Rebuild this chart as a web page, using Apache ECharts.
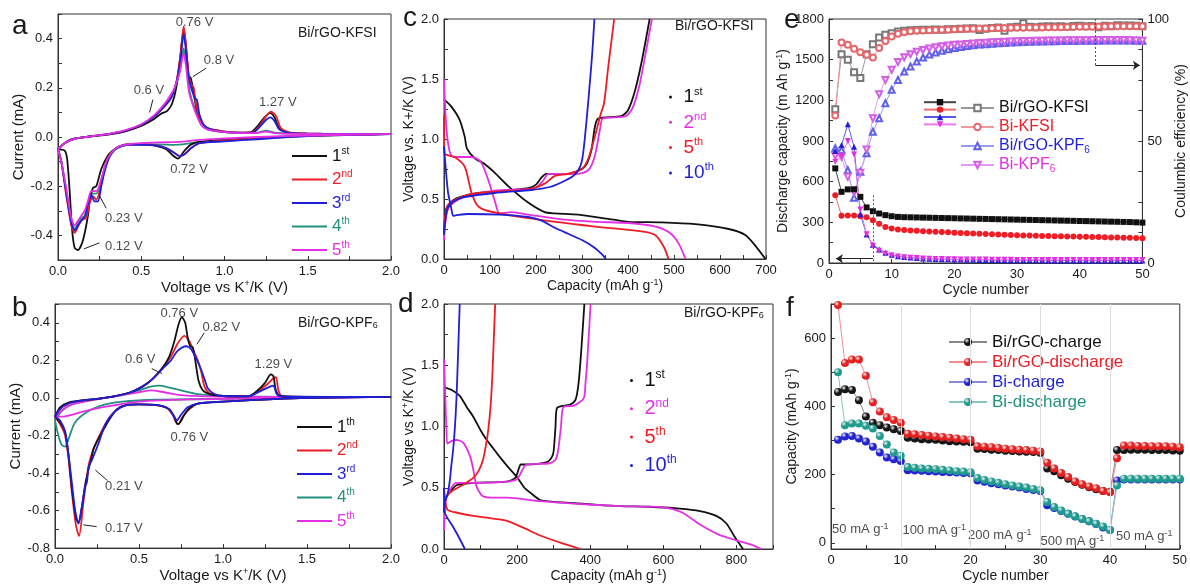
<!DOCTYPE html>
<html>
<head>
<meta charset="utf-8">
<script src="https://cdn.jsdelivr.net/npm/echarts@6/dist/echarts.min.js"></script>
<style>
  html, body { margin: 0; padding: 0; background: #fff; }
  #chart { width: 1190px; height: 585px; }
</style>
</head>
<body>
<div id="chart"></div>
<script>
// ---------- panel a : CV, Bi/rGO in KFSI  [V, mA] ----------
var aCycle1 = [[0,-0.05],[0.03,-0.03],[0.06,-0.015],[0.1,-0.006],[0.2,0.003],[0.3,0.01],[0.4,0.022],[0.5,0.045],[0.57,0.07],[0.62,0.095],[0.655,0.105],[0.685,0.135],[0.71,0.2],[0.735,0.33],[0.755,0.44],[0.77,0.36],[0.785,0.25],[0.797,0.24],[0.81,0.2],[0.83,0.12],[0.86,0.06],[0.9,0.035],[1.0,0.022],[1.1,0.018],[1.16,0.02],[1.2,0.045],[1.24,0.08],[1.275,0.098],[1.3,0.08],[1.33,0.035],[1.38,0.018],[1.5,0.014],[1.75,0.012],[2.0,0.012],
  [1.6,0.008],[1.3,0.0],[1.0,-0.012],[0.85,-0.02],[0.8,-0.03],[0.76,-0.055],[0.72,-0.088],[0.69,-0.075],[0.65,-0.05],[0.6,-0.038],[0.5,-0.03],[0.42,-0.03],[0.38,-0.035],[0.34,-0.05],[0.3,-0.075],[0.26,-0.13],[0.23,-0.2],[0.21,-0.207],[0.19,-0.26],[0.18,-0.32],[0.15,-0.42],[0.12,-0.46],[0.1,-0.45],[0.085,-0.38],[0.07,-0.22],[0.055,-0.09],[0.04,-0.055],[0,-0.05]];
var aCycle2 = [[0,-0.05],[0.04,-0.025],[0.1,-0.008],[0.2,0.003],[0.3,0.012],[0.4,0.025],[0.5,0.05],[0.58,0.085],[0.64,0.125],[0.68,0.16],[0.71,0.22],[0.735,0.33],[0.755,0.45],[0.77,0.36],[0.785,0.25],[0.8,0.215],[0.815,0.2],[0.83,0.13],[0.86,0.06],[0.9,0.035],[1.0,0.022],[1.1,0.018],[1.17,0.02],[1.21,0.045],[1.25,0.085],[1.28,0.103],[1.31,0.085],[1.34,0.035],[1.4,0.017],[1.6,0.013],[2.0,0.012],
  [1.5,0.005],[1.0,-0.015],[0.85,-0.025],[0.8,-0.045],[0.76,-0.07],[0.73,-0.077],[0.7,-0.065],[0.65,-0.045],[0.55,-0.03],[0.42,-0.03],[0.35,-0.045],[0.3,-0.085],[0.27,-0.15],[0.25,-0.22],[0.23,-0.255],[0.21,-0.24],[0.19,-0.27],[0.17,-0.33],[0.15,-0.335],[0.13,-0.35],[0.1,-0.39],[0.08,-0.36],[0.05,-0.24],[0.02,-0.1],[0,-0.05]];
var aCycle3 = [[0,-0.05],[0.04,-0.025],[0.1,-0.008],[0.2,0.003],[0.3,0.012],[0.4,0.025],[0.5,0.05],[0.58,0.085],[0.64,0.125],[0.68,0.16],[0.71,0.22],[0.735,0.31],[0.755,0.42],[0.77,0.34],[0.785,0.24],[0.8,0.2],[0.82,0.16],[0.835,0.15],[0.85,0.09],[0.88,0.045],[0.92,0.03],[1.0,0.02],[1.1,0.017],[1.17,0.018],[1.21,0.04],[1.25,0.07],[1.275,0.08],[1.3,0.065],[1.33,0.03],[1.4,0.016],[1.6,0.013],[2.0,0.012],
  [1.5,0.004],[1.0,-0.018],[0.85,-0.025],[0.8,-0.045],[0.76,-0.07],[0.73,-0.078],[0.7,-0.065],[0.65,-0.045],[0.55,-0.032],[0.42,-0.032],[0.35,-0.045],[0.31,-0.08],[0.28,-0.14],[0.26,-0.2],[0.24,-0.262],[0.22,-0.262],[0.2,-0.235],[0.18,-0.27],[0.165,-0.32],[0.14,-0.34],[0.12,-0.36],[0.1,-0.38],[0.08,-0.35],[0.05,-0.23],[0.02,-0.1],[0,-0.05]];
var aCycle4 = [[0,-0.05],[0.04,-0.025],[0.1,-0.008],[0.2,0.003],[0.3,0.012],[0.4,0.025],[0.5,0.05],[0.58,0.085],[0.64,0.13],[0.68,0.16],[0.71,0.21],[0.735,0.28],[0.755,0.36],[0.77,0.3],[0.785,0.21],[0.8,0.16],[0.83,0.1],[0.86,0.05],[0.9,0.03],[1.0,0.02],[1.1,0.016],[1.2,0.018],[1.25,0.026],[1.3,0.018],[1.4,0.014],[1.6,0.012],[2.0,0.012],
  [1.5,0.004],[1.2,-0.004],[1.0,-0.012],[0.85,-0.02],[0.75,-0.03],[0.7,-0.032],[0.6,-0.03],[0.5,-0.03],[0.42,-0.032],[0.36,-0.045],[0.32,-0.07],[0.29,-0.11],[0.26,-0.18],[0.23,-0.23],[0.2,-0.23],[0.18,-0.27],[0.16,-0.32],[0.14,-0.33],[0.12,-0.35],[0.1,-0.375],[0.08,-0.34],[0.05,-0.22],[0.02,-0.1],[0,-0.05]];
var aCycle5 = [[0,-0.05],[0.04,-0.025],[0.1,-0.008],[0.2,0.003],[0.3,0.012],[0.4,0.027],[0.5,0.052],[0.58,0.09],[0.64,0.135],[0.68,0.175],[0.7,0.2],[0.73,0.26],[0.755,0.34],[0.77,0.28],[0.785,0.19],[0.8,0.15],[0.82,0.11],[0.86,0.05],[0.9,0.03],[1.0,0.02],[1.1,0.016],[1.2,0.017],[1.25,0.022],[1.3,0.016],[1.4,0.013],[1.6,0.012],[2.0,0.012],
  [1.5,0.006],[1.2,0.0],[1.0,-0.006],[0.85,-0.012],[0.72,-0.02],[0.6,-0.022],[0.5,-0.025],[0.42,-0.03],[0.36,-0.04],[0.32,-0.065],[0.29,-0.1],[0.26,-0.17],[0.23,-0.22],[0.2,-0.22],[0.18,-0.26],[0.16,-0.3],[0.14,-0.32],[0.12,-0.34],[0.1,-0.36],[0.08,-0.33],[0.05,-0.21],[0.02,-0.1],[0,-0.05]];
var aNotes = [[0.82,0.465,'0.76 V'],[0.967,0.31,'0.8 V'],[0.546,0.19,'0.6 V'],[1.32,0.139,'1.27 V'],[0.787,-0.133,'0.72 V'],[0.395,-0.333,'0.23 V'],[0.395,-0.446,'0.12 V']];
var aArrows = [[0.89,0.28,0.81,0.245],[0.57,0.152,0.55,0.1],[0.29,-0.29,0.25,-0.24],[0.25,-0.43,0.155,-0.455]];

// ---------- panel b : CV, Bi/rGO in KPF6 ----------
var bCycle1 = [[0,-0.1],[0.03,-0.05],[0.08,-0.025],[0.15,-0.015],[0.25,-0.005],[0.35,0.008],[0.45,0.03],[0.52,0.06],[0.58,0.1],[0.64,0.16],[0.68,0.22],[0.71,0.3],[0.735,0.39],[0.755,0.43],[0.775,0.4],[0.79,0.32],[0.805,0.275],[0.82,0.27],[0.835,0.2],[0.855,0.09],[0.88,0.04],[0.92,0.02],[1.0,0.01],[1.15,0.008],[1.2,0.035],[1.25,0.08],[1.285,0.125],[1.3,0.115],[1.315,0.04],[1.34,0.01],[1.5,0.005],[2,0.005],
  [1.5,0.0],[1.0,-0.02],[0.85,-0.03],[0.8,-0.055],[0.77,-0.09],[0.745,-0.13],[0.73,-0.14],[0.71,-0.1],[0.68,-0.06],[0.62,-0.04],[0.5,-0.035],[0.42,-0.04],[0.37,-0.06],[0.32,-0.12],[0.27,-0.2],[0.23,-0.27],[0.215,-0.33],[0.205,-0.36],[0.195,-0.4],[0.18,-0.46],[0.16,-0.58],[0.14,-0.665],[0.125,-0.64],[0.1,-0.48],[0.08,-0.3],[0.06,-0.18],[0.03,-0.13],[0,-0.1]];
var bCycle2 = [[0,-0.1],[0.03,-0.06],[0.08,-0.03],[0.15,-0.015],[0.25,-0.005],[0.35,0.008],[0.45,0.03],[0.52,0.06],[0.58,0.1],[0.64,0.16],[0.69,0.22],[0.73,0.29],[0.77,0.33],[0.8,0.3],[0.83,0.24],[0.85,0.2],[0.87,0.14],[0.89,0.06],[0.92,0.025],[1.0,0.01],[1.15,0.008],[1.2,0.03],[1.26,0.07],[1.3,0.105],[1.315,0.11],[1.33,0.04],[1.35,0.01],[1.5,0.005],[2,0.005],
  [1.5,0.0],[1.0,-0.02],[0.85,-0.03],[0.8,-0.06],[0.76,-0.1],[0.735,-0.14],[0.72,-0.13],[0.7,-0.09],[0.66,-0.05],[0.5,-0.035],[0.42,-0.04],[0.37,-0.06],[0.32,-0.11],[0.27,-0.19],[0.23,-0.27],[0.2,-0.36],[0.17,-0.55],[0.143,-0.736],[0.125,-0.68],[0.1,-0.5],[0.08,-0.32],[0.06,-0.2],[0.03,-0.14],[0,-0.1]];
var bCycle3 = [[0,-0.1],[0.03,-0.06],[0.08,-0.03],[0.15,-0.015],[0.25,-0.005],[0.35,0.008],[0.45,0.03],[0.52,0.06],[0.58,0.1],[0.64,0.155],[0.69,0.2],[0.73,0.25],[0.78,0.275],[0.81,0.26],[0.84,0.21],[0.87,0.15],[0.89,0.1],[0.91,0.05],[0.95,0.02],[1.0,0.01],[1.15,0.008],[1.22,0.035],[1.28,0.06],[1.3,0.065],[1.32,0.02],[1.35,0.008],[2,0.005],
  [1.5,0.0],[1.0,-0.02],[0.85,-0.03],[0.79,-0.05],[0.75,-0.09],[0.725,-0.12],[0.71,-0.1],[0.68,-0.06],[0.62,-0.04],[0.5,-0.035],[0.42,-0.04],[0.36,-0.07],[0.3,-0.14],[0.26,-0.24],[0.22,-0.33],[0.2,-0.37],[0.19,-0.45],[0.18,-0.47],[0.16,-0.58],[0.14,-0.67],[0.12,-0.6],[0.1,-0.45],[0.08,-0.3],[0.06,-0.18],[0.03,-0.12],[0,-0.1]];
var bCycle4 = [[0,-0.12],[0.04,-0.07],[0.1,-0.035],[0.2,-0.015],[0.3,0.0],[0.4,0.015],[0.5,0.04],[0.57,0.06],[0.62,0.065],[0.68,0.055],[0.75,0.04],[0.85,0.02],[1.0,0.01],[1.5,0.005],[2,0.005],
  [1.5,0.0],[1.0,-0.005],[0.6,-0.01],[0.4,-0.02],[0.3,-0.035],[0.2,-0.07],[0.12,-0.13],[0.08,-0.22],[0.06,-0.26],[0.04,-0.25],[0.02,-0.2],[0,-0.12]];
var bCycle5 = [[0,-0.1],[0.05,-0.06],[0.1,-0.035],[0.2,-0.015],[0.3,0.0],[0.4,0.015],[0.5,0.03],[0.57,0.04],[0.65,0.03],[0.75,0.015],[0.9,0.008],[1.2,0.005],[2,0.005],
  [1.2,-0.003],[0.8,-0.008],[0.5,-0.02],[0.35,-0.04],[0.2,-0.065],[0.1,-0.09],[0.05,-0.1],[0,-0.1]];
var bNotes = [[0.74,0.45,'0.76 V'],[0.99,0.373,'0.82 V'],[0.507,0.206,'0.6 V'],[1.3,0.18,'1.29 V'],[0.8,-0.208,'0.76 V'],[0.41,-0.472,'0.21 V'],[0.41,-0.697,'0.17 V']];
var bArrows = [[0.888,0.346,0.845,0.285],[0.576,0.156,0.636,0.13],[0.312,-0.44,0.24,-0.384],[0.248,-0.686,0.169,-0.676]];

// ---------- panel c : charge/discharge, KFSI  [mAh/g, V] ----------
var c1Dis = [[0,1.33],[16,1.27],[34,1.16],[45,1.02],[50,0.92],[67,0.84],[89,0.79],[110,0.72],[139,0.61],[183,0.47],[219,0.39],[241,0.38],[292,0.37],[365,0.33],[401,0.31],[473,0.305],[546,0.29],[619,0.25],[655,0.2],[677,0.11],[699,0]];
var c1Chg = [[0,0.2],[5,0.42],[20,0.49],[38,0.52],[74,0.55],[110,0.56],[183,0.59],[200,0.62],[212,0.68],[222,0.71],[270,0.71],[306,0.77],[320,0.9],[328,1.1],[335,1.17],[385,1.19],[400,1.24],[415,1.4],[430,1.65],[447,2.0]];
var c2Dis = [[0,1.5],[5,1.1],[12,0.9],[20,0.85],[40,0.85],[60,0.85],[80,0.81],[96,0.66],[110,0.49],[121,0.38],[147,0.39],[183,0.37],[256,0.33],[330,0.31],[401,0.3],[460,0.27],[490,0.22],[510,0.13],[525,0]];
var c2Chg = [[0,0.16],[9,0.42],[38,0.51],[110,0.57],[197,0.59],[215,0.65],[227,0.71],[292,0.71],[314,0.74],[328,0.86],[340,1.1],[345,1.17],[395,1.19],[410,1.26],[425,1.45],[440,1.75],[452,2.0]];
var c5Dis = [[0,1.2],[1,0.88],[23,0.85],[45,0.77],[60,0.55],[74,0.44],[96,0.4],[183,0.34],[328,0.27],[430,0.23],[459,0.2],[478,0.1],[488,0]];
var c5Chg = [[0,0.27],[9,0.45],[40,0.52],[74,0.55],[183,0.58],[220,0.63],[240,0.69],[270,0.71],[300,0.75],[315,0.85],[330,1.05],[340,1.2],[348,1.3],[357,1.6],[370,2.0]];
var c10Dis = [[0,0.94],[5,0.7],[9,0.55],[16,0.42],[20,0.36],[27,0.365],[52,0.375],[120,0.37],[183,0.35],[212,0.32],[241,0.26],[270,0.21],[299,0.16],[325,0.1],[343,0.04],[352,0]];
var c10Chg = [[0,0.2],[5,0.38],[12,0.45],[38,0.51],[110,0.55],[190,0.575],[230,0.6],[256,0.64],[280,0.69],[292,0.74],[300,0.82],[306,1.0],[314,1.33],[322,1.7],[327,2.0]];

// ---------- panel d : charge/discharge, KPF6 ----------
var d1Dis = [[0,1.32],[20,1.3],[43,1.25],[62,1.16],[80,1.08],[100,0.97],[117,0.89],[135,0.82],[153,0.75],[175,0.67],[199,0.59],[220,0.5],[236,0.46],[263,0.4],[300,0.385],[355,0.375],[420,0.36],[483,0.35],[560,0.345],[644,0.33],[700,0.31],[745,0.27],[772,0.21],[795,0.1],[818,0]];
var d1Chg = [[0,0.3],[3,0.4],[7,0.43],[34,0.52],[80,0.54],[172,0.55],[195,0.58],[205,0.66],[210,0.69],[226,0.69],[282,0.71],[295,0.75],[300,0.8],[305,1.0],[309,1.15],[345,1.18],[360,1.22],[368,1.35],[375,1.6],[384,2.0]];
var d2Dis = [[0,1.55],[4,1.2],[7,0.95],[9,0.86],[20,0.88],[34,0.89],[52,0.87],[71,0.76],[80,0.65],[89,0.51],[100,0.45],[107,0.43],[125,0.42],[172,0.42],[263,0.39],[355,0.37],[483,0.35],[600,0.34],[650,0.3],[700,0.2],[750,0.12],[800,0.07],[840,0.035],[868,0]];
var d2Chg = [[0,0.15],[5,0.4],[20,0.5],[34,0.54],[80,0.54],[172,0.55],[200,0.57],[217,0.66],[226,0.69],[290,0.7],[305,0.73],[312,0.8],[320,1.0],[327,1.16],[355,1.17],[382,1.23],[387,1.35],[392,1.54],[401,2.0]];
var d5Dis = [[0,0.5],[4,0.38],[10,0.32],[30,0.3],[80,0.27],[130,0.25],[172,0.23],[220,0.17],[263,0.11],[320,0.05],[373,0]];
var d5Chg = [[0,0.3],[2,0.38],[10,0.44],[25,0.48],[50,0.52],[80,0.58],[95,0.64],[107,0.73],[116,0.87],[121,0.97],[127,1.15],[132,1.4],[136,1.7],[140,2.0]];
var d10Dis = [[0,0.5],[2,0.3],[10,0.25],[25,0.18],[40,0.1],[57,0]];
var d10Chg = [[0,0.3],[2,0.38],[10,0.45],[16,0.56],[20,0.68],[25,0.81],[30,1.0],[34,1.22],[38,1.55],[43,2.0]];

// ---------- panel e : cycling at 50 cycles ----------
var cycles = [];
for (var i = 1; i <= 50; i++) cycles.push(i);
var eCapRGOKFSI = [698,525,543,544,488,410,382,365,353,345,340,338,337,336,335,334,333,332,331,330,329,328,327,326,325,324,323,322,321,320,319,318,317,316,315,314,313,312,311,310,309,308,307,306,305,304,303,302,300,298];
var eCapBiKFSI = [500,348,350,350,345,338,316,289,266,254,247,243,240,237,235,232,230,228,226,224,222,220,218,216,214,212,210,208,206,204,203,202,201,200,199,198,197,196,195,194,193,192,191,190,189,188,187,186,185,183];
var eCapRGOKPF6 = [826,870,1023,858,360,210,135,100,75,60,50,44,40,37,34,32,30,28,27,26,25,24,24,23,23,22,22,21,21,21,20,20,20,20,19,19,19,19,19,18,18,18,18,18,18,18,18,18,18,18];
var eCapBiKPF6 = [747,790,900,801,395,212,128,90,68,56,48,43,39,36,33,31,30,29,28,27,26,26,25,25,25,24,24,24,24,23,23,23,23,23,23,22,22,22,22,22,22,22,22,22,22,22,22,22,22,22];
var eCeRGOKFSI = [63,85.6,83.3,78.2,75.8,85.6,89.7,92.4,93.5,94.2,94.9,95.2,95.4,95.5,95.6,95.6,95.7,95.6,95.8,95.9,96,96.1,96.2,95.5,96,96.3,96.5,95.2,96.6,96.8,98.3,96.8,96.6,96.9,97,96.9,97,96.8,97.1,97.2,97,97.1,96.6,97.2,97,97.4,97.3,97.3,97.2,97];
var eCeBiKFSI = [60.4,90.4,89.4,87.8,86.4,85.3,84.2,88.1,91,92.8,94,94.6,95,95.2,95.3,95.4,95.5,95.6,95.6,95.8,95.9,96,96,96.1,96.1,96.2,96.3,96.3,96.4,96.4,96.4,96.5,96.5,96.5,96.6,96.6,96.6,96.7,96.7,96.8,96.8,96.8,96.9,96.9,97,97,97,97,97,97];
var eCeRGOKPF6 = [47,46.3,38,26.7,37.4,45,53.8,59.3,65.5,71,75,78.5,80.5,82.6,84.2,85.4,86.3,87,87.6,88.1,88.5,88.9,89.2,89.5,89.7,89.9,90.1,90.2,90.4,90.5,90.6,90.7,90.8,90.8,90.9,90.9,91,91,91,91.1,91.1,91.1,91.1,91.2,91.2,91.2,91.2,91.2,91.1,91.1];
var eCeBiKPF6 = [44,43.5,35.3,29,37,46.5,59.3,69.2,75,79.2,82.4,84.3,85.6,86.6,87.3,87.9,88.4,88.8,89.1,89.4,89.6,89.8,90,90.2,90.3,90.5,90.6,90.7,90.8,90.9,91,91,91.1,91.1,91.2,91.2,91.2,91.3,91.3,91.3,91.3,91.4,91.4,91.4,91.4,91.4,91.4,91.3,91.2,91.1];

// ---------- panel f : rate capability ----------
var fRGOcharge = [442,450,448,418,370,352,345,338,333,328,308,306,304,303,302,300,298,297,296,295,276,275,273,272,270,269,268,267,266,264,218,210,198,188,178,170,163,157,152,150,272,272,273,273,273,272,272,272,271,270];
var fRGOdischarge = [697,527,537,537,490,412,385,368,360,352,320,318,316,314,312,310,308,306,304,302,283,282,280,278,276,274,273,272,270,268,235,218,205,193,180,172,165,160,152,148,248,285,285,284,284,283,283,283,282,280];
var fBicharge = [302,312,313,306,297,282,265,250,245,240,213,212,211,210,209,208,207,206,205,204,183,179,175,172,168,165,162,158,155,152,110,102,93,85,77,70,63,55,45,38,183,186,186,186,186,186,186,186,186,186];
var fBidischarge = [500,345,350,350,343,335,313,288,265,255,222,220,218,217,216,214,212,210,209,207,190,184,180,176,172,168,165,162,158,154,120,105,95,85,78,70,63,56,48,38,168,188,188,188,188,188,188,188,188,188];
var fRates = [[4.2,39,'50 mA g{sup|-1}'],[14.8,36,'100 mA g{sup|-1}'],[24.2,21,'200 mA g{sup|-1}'],[34.6,5,'500 mA g{sup|-1}'],[44.9,19,'50 mA g{sup|-1}']];
var fSteps = [10, 20, 30, 40];

// ---------- tick positions ----------
var cvXLabels = [0, 0.5, 1, 1.5, 2];
var cvXTicks = [0, 0.25, 0.5, 0.75, 1, 1.25, 1.5, 1.75, 2];
var aYLabels = [-0.4, -0.2, 0, 0.2, 0.4];
var aYTicks = [-0.5, -0.4, -0.3, -0.2, -0.1, 0, 0.1, 0.2, 0.3, 0.4, 0.5];
var bYLabels = [-0.8, -0.6, -0.4, -0.2, 0, 0.2, 0.4];
var bYTicks = [-0.8, -0.7, -0.6, -0.5, -0.4, -0.3, -0.2, -0.1, 0, 0.1, 0.2, 0.3, 0.4, 0.5];
var vLabels = [0, 0.5, 1, 1.5, 2];
var vTicks = [0, 0.25, 0.5, 0.75, 1, 1.25, 1.5, 1.75, 2];
var cXLabels = [0, 100, 200, 300, 400, 500, 600, 700];
var cXTicks = [0, 50, 100, 150, 200, 250, 300, 350, 400, 450, 500, 550, 600, 650, 700];
var dXLabels = [0, 200, 400, 600, 800];
var dXTicks = [0, 100, 200, 300, 400, 500, 600, 700, 800, 900];
var cycLabels = [0, 10, 20, 30, 40, 50];
var cycTicks = [0, 5, 10, 15, 20, 25, 30, 35, 40, 45, 50];
var eYLabels = [0, 300, 600, 900, 1200, 1500, 1800];
var eYTicks = [0, 150, 300, 450, 600, 750, 900, 1050, 1200, 1350, 1500, 1650, 1800];
var eCeLabels = [0, 50, 100];
var eCeTicks = [0, 12.5, 25, 37.5, 50, 62.5, 75, 87.5, 100];
var fYLabels = [0, 200, 400, 600];
var fYTicks = [0, 100, 200, 300, 400, 500, 600, 700];

// ---------- styling ----------
var FONT = '"Liberation Sans", Arial, Helvetica, sans-serif';
var INK = '#1a1a1a';
var K = '#111111', R = '#ee1c24', B = '#1f1fd8', T = '#23917f', M = '#e42fe4';
var RICH = {
  sup: {fontSize: 9, lineHeight: 9, verticalAlign: 'top', fontFamily: FONT},
  sub: {fontSize: 9, lineHeight: 9, verticalAlign: 'bottom', fontFamily: FONT}
};

function fmt1(v) { return v.toFixed(1); }
function fmt0(v) { return String(Math.round(v)); }

function axisCfg(g, min, max, labels, ticks, formatter, name, gap, extra) {
  var a = {
    type: 'value', gridIndex: g, min: min, max: max,
    axisLine: {show: true, onZero: false, lineStyle: {color: '#333', width: 1}},
    axisTick: {show: true, inside: true, length: 4, customValues: ticks, lineStyle: {color: '#333'}},
    axisLabel: {customValues: labels, formatter: formatter, fontSize: 13, color: INK, fontFamily: FONT, margin: 5},
    splitLine: {show: false},
    name: name, nameLocation: 'middle', nameGap: gap,
    nameTextStyle: {fontSize: 14, color: INK, fontFamily: FONT, lineHeight: 16, rich: RICH}
  };
  if (extra) Object.keys(extra).forEach(function (k) { a[k] = extra[k]; });
  return a;
}

function curve(name, data, color, xi, yi) {
  return {
    name: name, type: 'line', xAxisIndex: xi, yAxisIndex: yi, data: data,
    showSymbol: false, symbol: 'none', smooth: 0.25,
    lineStyle: {color: color, width: 1.8}, itemStyle: {color: color}, z: 3
  };
}

function notes(xi, yi, items, arrows, fontSize) {
  return {
    type: 'scatter', xAxisIndex: xi, yAxisIndex: yi, silent: true, z: 6,
    symbolSize: 1, itemStyle: {color: 'rgba(0,0,0,0)'},
    data: items.map(function (t) { return {value: [t[0], t[1]], name: t[2]}; }),
    label: {show: true, position: 'inside', formatter: '{b}', fontSize: fontSize || 13,
            lineHeight: 15, color: INK, fontFamily: FONT, rich: RICH},
    markLine: {
      silent: true, symbol: ['none', 'arrow'], symbolSize: [0, 6], animation: false,
      lineStyle: {color: '#222', width: 1, type: 'solid'}, label: {show: false},
      data: (arrows || []).map(function (a) { return [{coord: [a[0], a[1]]}, {coord: [a[2], a[3]]}]; })
    }
  };
}

function pairs(xs, ys) { return xs.map(function (x, k) { return [x, ys[k]]; }); }

function supName(n) {
  var t = n.split(':')[1];
  var m = t.match(/^(\d+)(\D+)$/);
  return m ? m[1] + '{s|' + m[2] + '}' : t;
}

function ordLegend(left, top, names, colors, icon, w, h, size, gap) {
  return {
    orient: 'vertical', left: left, top: top, icon: icon, itemWidth: w, itemHeight: h,
    itemGap: gap, selectedMode: false, padding: 0,
    formatter: supName,
    textStyle: {fontSize: size, lineHeight: size + 3, fontFamily: FONT,
                rich: {s: {fontSize: Math.round(size * 0.6), lineHeight: 10, verticalAlign: 'top', fontFamily: FONT}}},
    data: names.map(function (n, k) {
      return {name: n, textStyle: {color: colors[k], rich: {s: {color: colors[k]}}}};
    })
  };
}

function ball(c) {
  return {type: 'radial', x: 0.35, y: 0.32, r: 0.75,
          colorStops: [{offset: 0, color: '#f2f2f2'}, {offset: 0.45, color: c}, {offset: 1, color: c}]};
}

function label(text, left, top, size) {
  return {text: text, left: left, top: top, padding: 0,
          textStyle: {fontSize: size, fontWeight: 'normal', color: INK, fontFamily: FONT, rich: RICH}};
}

var chart = echarts.init(document.getElementById('chart'), null, {renderer: 'canvas'});

var kpfName = function (n) {
  var t = n.split(':')[1];
  return t.replace('KPF6', 'KPF{sub|6}');
};

var option = {
  animation: false,
  backgroundColor: '#ffffff',
  textStyle: {fontFamily: FONT},
  title: [
    label('a', 12, 12, 28), label('b', 12, 294, 28), label('c', 403, 4, 28),
    label('d', 398, 290, 28), label('e', 784, 6, 28), label('f', 786, 294, 28),
    label('Bi/rGO-KFSI', 298, 26, 14), label('Bi/rGO-KPF{sub|6}', 298, 316, 14),
    label('Bi/rGO-KFSI', 675, 19, 14), label('Bi/rGO-KPF{sub|6}', 684, 306, 14)
  ],
  grid: [
    {left: 58, top: 14, width: 333, height: 246},
    {left: 55, top: 304, width: 336, height: 245},
    {left: 444, top: 19, width: 322, height: 240},
    {left: 444, top: 304, width: 329, height: 245},
    {left: 829, top: 19, width: 329, height: 244},
    {left: 831, top: 304, width: 360, height: 245}
  ].map(function (g) {
    g.show = true; g.borderColor = '#333'; g.borderWidth = 1; g.backgroundColor = 'transparent';
    return g;
  }),
  xAxis: [
    axisCfg(0, 0, 2, cvXLabels, cvXTicks, fmt1, 'Voltage vs K{sup|+}/K (V)', 15, {nameTextStyle: {fontSize: 15, color: INK, fontFamily: FONT, lineHeight: 17, rich: RICH}}),
    axisCfg(1, 0, 2, cvXLabels, cvXTicks, fmt1, 'Voltage vs K{sup|+}/K (V)', 18, {nameTextStyle: {fontSize: 15, color: INK, fontFamily: FONT, lineHeight: 17, rich: RICH}}),
    axisCfg(2, 0, 700, cXLabels, cXTicks, fmt0, 'Capacity (mAh g{sup|-1})', 18),
    axisCfg(3, 0, 900, dXLabels, dXTicks, fmt0, 'Capacity (mAh g{sup|-1})', 16),
    axisCfg(4, 0, 50, cycLabels, cycTicks, fmt0, 'Cycle number', 18),
    axisCfg(5, 0, 50, cycLabels, cycTicks, fmt0, 'Cycle number', 19)
  ],
  yAxis: [
    axisCfg(0, -0.5, 0.5, aYLabels, aYTicks, fmt1, 'Current (mA)', 31, {nameTextStyle: {fontSize: 15, color: INK, fontFamily: FONT}}),
    axisCfg(1, -0.8, 0.5, bYLabels, bYTicks, fmt1, 'Current (mA)', 30, {nameTextStyle: {fontSize: 15, color: INK, fontFamily: FONT}}),
    axisCfg(2, 0, 2, vLabels, vTicks, fmt1, 'Voltage vs. K+/K (V)', 27),
    axisCfg(3, 0, 2, vLabels, vTicks, fmt1, 'Voltage vs K{sup|+}/K (V)', 25),
    axisCfg(4, 0, 1800, eYLabels, eYTicks, fmt0, 'Discharge capacity (m Ah g{sup|-1})', 32),
    axisCfg(4, 0, 100, eCeLabels, eCeTicks, fmt0, 'Coulumbic efficiency (%)', 18, {position: 'right'}),
    axisCfg(5, -18, 700, fYLabels, fYTicks, fmt0, 'Capacity (mAh g{sup|-1})', 30)
  ],
  legend: [
    ordLegend(292, 146, ['a:1st', 'a:2nd', 'a:3rd', 'a:4th', 'a:5th'], [K, R, B, T, M], 'rect', 35, 2, 17, 3.5),
    ordLegend(297, 417, ['b:1th', 'b:2nd', 'b:3rd', 'b:4th', 'b:5th'], [K, R, B, T, M], 'rect', 35, 2, 17, 3.5),
    ordLegend(669, 86, ['c:1st', 'c:2nd', 'c:5th', 'c:10th'], [K, M, R, B], 'circle', 16, 3, 19, 3.3),
    ordLegend(630, 369, ['d:1st', 'd:2nd', 'd:5th', 'd:10th'], [K, M, R, B], 'circle', 16, 3, 20, 5.3),
    {
      orient: 'vertical', left: 923, top: 99, itemWidth: 32, itemHeight: 8, itemGap: 1,
      selectedMode: false, padding: 0, formatter: function () { return ''; },
      textStyle: {fontSize: 16, lineHeight: 18},
      data: ['e:Bi/rGO-KFSI:cap', 'e:Bi-KFSI:cap', 'e:Bi/rGO-KPF6:cap', 'e:Bi-KPF6:cap']
    },
    {
      orient: 'vertical', left: 960, top: 99, itemWidth: 33, itemHeight: 8, itemGap: 1,
      selectedMode: false, padding: 0, formatter: kpfName,
      textStyle: {fontSize: 16, lineHeight: 18, fontFamily: FONT, rich: {sub: {fontSize: 10, lineHeight: 10, verticalAlign: 'bottom', fontFamily: FONT}}},
      data: [
        {name: 'e:Bi/rGO-KFSI', textStyle: {color: K}},
        {name: 'e:Bi-KFSI', textStyle: {color: R, rich: {sub: {color: R}}}},
        {name: 'e:Bi/rGO-KPF6', textStyle: {color: B, rich: {sub: {color: B}}}},
        {name: 'e:Bi-KPF6', textStyle: {color: M, rich: {sub: {color: M}}}}
      ]
    },
    {
      orient: 'vertical', left: 948, top: 333, itemWidth: 38, itemHeight: 10, itemGap: 2,
      selectedMode: false, padding: 0,
      formatter: function (n) { return n.split(':')[1]; },
      textStyle: {fontSize: 17, lineHeight: 18, fontFamily: FONT},
      data: [
        {name: 'f:Bi/rGO-charge', textStyle: {color: K}},
        {name: 'f:Bi/rGO-discharge', textStyle: {color: R}},
        {name: 'f:Bi-charge', textStyle: {color: B}},
        {name: 'f:Bi-discharge', textStyle: {color: T}}
      ]
    }
  ],
  series: []
};

var S = option.series;
// a
S.push(curve('a:4th', aCycle4, T, 0, 0), curve('a:1st', aCycle1, K, 0, 0), curve('a:2nd', aCycle2, R, 0, 0),
       curve('a:3rd', aCycle3, B, 0, 0), curve('a:5th', aCycle5, M, 0, 0));
S.push(notes(0, 0, aNotes, aArrows));
// b
S.push(curve('b:4th', bCycle4, T, 1, 1), curve('b:5th', bCycle5, M, 1, 1), curve('b:2nd', bCycle2, R, 1, 1),
       curve('b:1th', bCycle1, K, 1, 1), curve('b:3rd', bCycle3, B, 1, 1));
S.push(notes(1, 1, bNotes, bArrows));
// c
S.push(curve('c:1st', c1Dis, K, 2, 2), curve('c:1st-charge', c1Chg, K, 2, 2),
       curve('c:2nd', c2Dis, M, 2, 2), curve('c:2nd-charge', c2Chg, M, 2, 2),
       curve('c:5th', c5Dis, R, 2, 2), curve('c:5th-charge', c5Chg, R, 2, 2),
       curve('c:10th', c10Dis, B, 2, 2), curve('c:10th-charge', c10Chg, B, 2, 2));
// d
S.push(curve('d:1st', d1Dis, K, 3, 3), curve('d:1st-charge', d1Chg, K, 3, 3),
       curve('d:2nd', d2Dis, M, 3, 3), curve('d:2nd-charge', d2Chg, M, 3, 3),
       curve('d:5th', d5Dis, R, 3, 3), curve('d:5th-charge', d5Chg, R, 3, 3),
       curve('d:10th', d10Dis, B, 3, 3), curve('d:10th-charge', d10Chg, B, 3, 3));

// e
function eSeries(name, ys, yi, sym, color, lineColor, rotate, marks) {
  var s = {
    name: name, type: 'line', xAxisIndex: 4, yAxisIndex: yi, data: pairs(cycles, ys),
    symbol: sym, symbolSize: 6, symbolRotate: rotate || 0, showAllSymbol: true,
    lineStyle: {color: lineColor, width: 1}, itemStyle: {color: color, borderWidth: 1}, z: 3
  };
  if (marks) s.markLine = marks;
  return s;
}
var dotted = {color: '#555', width: 1, type: [2, 2]};
var arrowLine = {color: '#222', width: 1, type: 'solid'};
S.push(
  eSeries('e:Bi/rGO-KFSI', eCeRGOKFSI, 5, 'emptyRect', '#777', '#999', 0, {
    silent: true, symbol: ['none', 'none'], symbolSize: 7, label: {show: false},
    data: [
      [{coord: [42.5, 100], lineStyle: dotted}, {coord: [42.5, 81]}],
      [{coord: [42.5, 81], lineStyle: arrowLine}, {coord: [49.6, 81], symbol: 'arrow'}]
    ]
  }),
  eSeries('e:Bi-KFSI', eCeBiKFSI, 5, 'emptyCircle', '#e5676b', '#ef9a9c'),
  eSeries('e:Bi/rGO-KPF6', eCeRGOKPF6, 5, 'emptyTriangle', '#6060e8', '#9a9af0'),
  eSeries('e:Bi-KPF6', eCeBiKPF6, 5, 'emptyTriangle', '#d45ee6', '#e39af0', 180),
  eSeries('e:Bi/rGO-KFSI:cap', eCapRGOKFSI, 4, 'rect', K, '#444', 0, {
    silent: true, symbol: ['none', 'none'], symbolSize: 7, label: {show: false},
    data: [
      [{coord: [7, 500], lineStyle: dotted}, {coord: [7, 0]}],
      [{coord: [7, 32], lineStyle: arrowLine}, {coord: [1.1, 32], symbol: 'arrow'}]
    ]
  }),
  eSeries('e:Bi-KFSI:cap', eCapBiKFSI, 4, 'circle', R, '#f06a6e'),
  eSeries('e:Bi/rGO-KPF6:cap', eCapRGOKPF6, 4, 'triangle', B, '#5a5ae6'),
  eSeries('e:Bi-KPF6:cap', eCapBiKPF6, 4, 'triangle', M, '#ea7aea', 180)
);

// f
function fSeries(name, ys, color, lineColor) {
  return {
    name: name, type: 'line', xAxisIndex: 5, yAxisIndex: 6, data: pairs(cycles, ys),
    symbol: 'circle', symbolSize: 8, showAllSymbol: true,
    lineStyle: {color: lineColor, width: 1}, itemStyle: {color: ball(color)}, z: 3
  };
}
S.push(
  fSeries('f:Bi/rGO-charge', fRGOcharge, '#151515', '#888'),
  fSeries('f:Bi/rGO-discharge', fRGOdischarge, '#e3201f', '#ee9090'),
  fSeries('f:Bi-charge', fBicharge, '#2222d0', '#8888dd'),
  fSeries('f:Bi-discharge', fBidischarge, '#1f9a8e', '#88c6bf')
);
var fNotes = notes(5, 6, fRates, [], 13);
fNotes.markLine = {
  silent: true, symbol: ['none', 'none'], label: {show: false},
  lineStyle: {color: '#dcdcdc', width: 1, type: 'solid'},
  data: fSteps.map(function (x) { return {xAxis: x}; })
};
fNotes.z = 1;
S.push(fNotes);

chart.setOption(option);
</script>
</body>
</html>
